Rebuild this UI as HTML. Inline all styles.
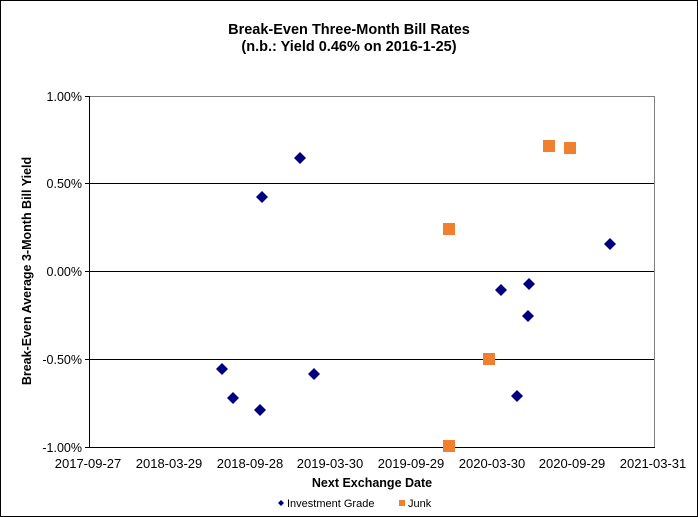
<!DOCTYPE html>
<html><head><style>body{margin:0;background:#fff}svg{display:block}</style></head><body>
<svg width="698" height="517" xmlns="http://www.w3.org/2000/svg" font-family="Liberation Sans, Arial, sans-serif">
<rect x="0.5" y="0.5" width="697" height="516" fill="#fff" stroke="#000"/>
<text x="349" y="34" text-anchor="middle" font-size="14.5" font-weight="bold">Break-Even Three-Month Bill Rates</text>
<text x="349" y="51" text-anchor="middle" font-size="14.5" font-weight="bold">(n.b.: Yield 0.46% on 2016-1-25)</text>
<g stroke="#000" stroke-width="1">
<line x1="89" y1="183.5" x2="655" y2="183.5"/>
<line x1="89" y1="271.5" x2="655" y2="271.5"/>
<line x1="89" y1="359.5" x2="655" y2="359.5"/>
<rect x="89.5" y="96.5" width="565" height="351" fill="none" stroke="#808080"/>
<line x1="89.5" y1="96" x2="89.5" y2="448"/>
<line x1="89" y1="447.5" x2="655" y2="447.5"/>
<line x1="85" y1="96.5" x2="89" y2="96.5"/><line x1="85" y1="183.5" x2="89" y2="183.5"/><line x1="85" y1="271.5" x2="89" y2="271.5"/><line x1="85" y1="359.5" x2="89" y2="359.5"/><line x1="85" y1="447.5" x2="89" y2="447.5"/>
</g>
<g font-size="12.5" text-anchor="end">
<text x="82" y="101">1.00%</text><text x="82" y="188">0.50%</text><text x="82" y="276">0.00%</text><text x="82" y="364">-0.50%</text><text x="82" y="452">-1.00%</text>
</g>
<g font-size="13" text-anchor="middle">
<text x="88" y="468">2017-09-27</text><text x="169" y="468">2018-03-29</text><text x="250" y="468">2018-09-28</text><text x="330" y="468">2019-03-30</text><text x="411" y="468">2019-09-29</text><text x="492" y="468">2020-03-30</text><text x="572" y="468">2020-09-29</text><text x="653" y="468">2021-03-31</text>
</g>
<text x="372" y="487" text-anchor="middle" font-size="12.5" font-weight="bold">Next Exchange Date</text>
<text transform="translate(31,271) rotate(-90)" text-anchor="middle" font-size="12.5" font-weight="bold">Break-Even Average 3-Month Bill Yield</text>
<g fill="#000080">
<path d="M300 152l6 6-6 6-6-6z"/><path d="M262 191l6 6-6 6-6-6z"/><path d="M222 363l6 6-6 6-6-6z"/><path d="M233 392l6 6-6 6-6-6z"/><path d="M260 404l6 6-6 6-6-6z"/><path d="M314 368l6 6-6 6-6-6z"/><path d="M501 284l6 6-6 6-6-6z"/><path d="M529 278l6 6-6 6-6-6z"/><path d="M528 310l6 6-6 6-6-6z"/><path d="M517 390l6 6-6 6-6-6z"/><path d="M610 238l6 6-6 6-6-6z"/>
<path d="M281 500l3 3-3 3-3-3z"/>
</g>
<g fill="#f08030">
<rect x="443" y="223" width="12" height="12"/><rect x="543" y="140" width="12" height="12"/><rect x="564" y="142" width="12" height="12"/><rect x="483" y="353" width="12" height="12"/><rect x="443" y="440" width="12" height="12"/>
<rect x="399" y="500" width="6" height="6"/>
</g>
<text x="287" y="507" font-size="11">Investment Grade</text>
<text x="408" y="507" font-size="11">Junk</text>
</svg>
</body></html>
